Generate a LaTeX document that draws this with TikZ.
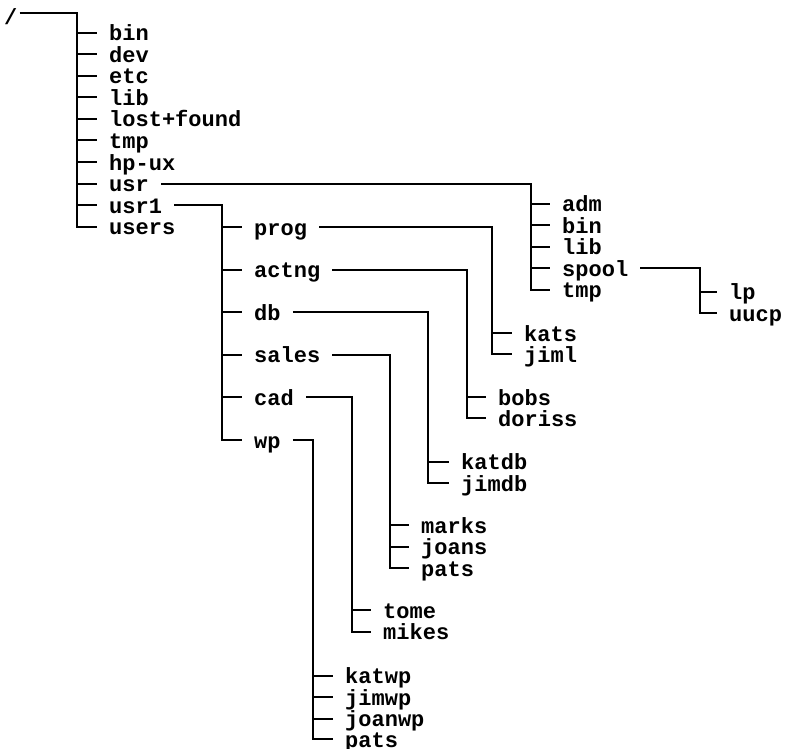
\documentclass[tikz,border=0pt]{standalone}
\usepackage{fontspec}
\setmainfont{Liberation Mono}
\begin{document}
\begin{tikzpicture}[x=1pt,y=-1pt,
  lblfont/.style={font=\fontsize{22pt}{26pt}\selectfont\bfseries},
  lbl/.style={lblfont, anchor=west, inner xsep=12pt, inner ysep=0pt, text height=16pt, text depth=0pt},
  tree/.style={line width=2pt, line join=miter, black}]
\useasboundingbox (0,0) rectangle (787,749);

% root
\node[lblfont, anchor=base west, inner xsep=2pt, inner ysep=0pt] (root) at (2,25) {/};
\coordinate (r0) at (77,13);
\node[lbl] (rbin)   at (97,33)    {bin};
\node[lbl] (rdev)   at (97,54.5)  {dev};
\node[lbl] (retc)   at (97,76)    {etc};
\node[lbl] (rlib)   at (97,97.5)  {lib};
\node[lbl] (rlost)  at (97,119)   {lost+found};
\node[lbl] (rtmp)   at (97,140.5) {tmp};
\node[lbl] (rhpux)  at (97,162)   {hp-ux};
\node[lbl] (rusr)   at (97,183.5) {usr};
\node[lbl] (rusr1)  at (97,205)   {usr1};
\node[lbl] (rusers) at (97,226.5) {users};

% usr
\coordinate (cusr) at (531,183.5);
\node[lbl] (uadm)   at (550,203.5) {adm};
\node[lbl] (ubin)   at (550,225)   {bin};
\node[lbl] (ulib)   at (550,246.5) {lib};
\node[lbl] (uspool) at (550,268)   {spool};
\node[lbl] (utmp)   at (550,289.5) {tmp};

% spool
\coordinate (cspool) at (700,268);
\node[lbl] (slp)   at (717,291.5) {lp};
\node[lbl] (suucp) at (717,313)   {uucp};

% usr1
\coordinate (cusr1) at (222,205);
\node[lbl] (vprog)  at (242,227)   {prog};
\node[lbl] (vactng) at (242,269.6) {actng};
\node[lbl] (vdb)    at (242,312.2) {db};
\node[lbl] (vsales) at (242,354.8) {sales};
\node[lbl] (vcad)   at (242,397.4) {cad};
\node[lbl] (vwp)    at (242,440)   {wp};

% prog
\coordinate (cprog) at (492,227);
\node[lbl] (pkats) at (512,333) {kats};
\node[lbl] (pjiml) at (512,354) {jiml};

% actng
\coordinate (cactng) at (467,269.6);
\node[lbl] (abobs)   at (486,397) {bobs};
\node[lbl] (adoriss) at (486,418) {doriss};

% db
\coordinate (cdb) at (428,312.2);
\node[lbl] (dkatdb) at (449,461.5) {katdb};
\node[lbl] (djimdb) at (449,483)   {jimdb};

% sales
\coordinate (csales) at (390,354.8);
\node[lbl] (smarks) at (409,525)   {marks};
\node[lbl] (sjoans) at (409,546.5) {joans};
\node[lbl] (spats)  at (409,568)   {pats};

% cad
\coordinate (ccad) at (352,397.4);
\node[lbl] (ctome)  at (371,610)   {tome};
\node[lbl] (cmikes) at (371,631.5) {mikes};

% wp
\coordinate (cwp) at (313,440);
\node[lbl] (wkatwp)  at (333,675.5) {katwp};
\node[lbl] (wjimwp)  at (333,697)   {jimwp};
\node[lbl] (wjoanwp) at (333,718.5) {joanwp};
\node[lbl] (wpats)   at (333,739)   {pats};

% connectors
\draw[tree] (root.east |- r0) -- (r0) |- (rusers.west);
\foreach \n in {rbin,rdev,retc,rlib,rlost,rtmp,rhpux,rusr,rusr1}
  \draw[tree] (r0 |- \n.west) -- (\n.west);

\draw[tree] (rusr.east) -| (cusr |- utmp.west) -- (utmp.west);
\foreach \n in {uadm,ubin,ulib,uspool}
  \draw[tree] (cusr |- \n.west) -- (\n.west);

\draw[tree] (uspool.east) -| (cspool |- suucp.west) -- (suucp.west);
\draw[tree] (cspool |- slp.west) -- (slp.west);

\draw[tree] (rusr1.east) -| (cusr1 |- vwp.west) -- (vwp.west);
\foreach \n in {vprog,vactng,vdb,vsales,vcad}
  \draw[tree] (cusr1 |- \n.west) -- (\n.west);

\draw[tree] (vprog.east) -| (cprog |- pjiml.west) -- (pjiml.west);
\draw[tree] (cprog |- pkats.west) -- (pkats.west);

\draw[tree] (vactng.east) -| (cactng |- adoriss.west) -- (adoriss.west);
\draw[tree] (cactng |- abobs.west) -- (abobs.west);

\draw[tree] (vdb.east) -| (cdb |- djimdb.west) -- (djimdb.west);
\draw[tree] (cdb |- dkatdb.west) -- (dkatdb.west);

\draw[tree] (vsales.east) -| (csales |- spats.west) -- (spats.west);
\foreach \n in {smarks,sjoans}
  \draw[tree] (csales |- \n.west) -- (\n.west);

\draw[tree] (vcad.east) -| (ccad |- cmikes.west) -- (cmikes.west);
\draw[tree] (ccad |- ctome.west) -- (ctome.west);

\draw[tree] (vwp.east) -| (cwp |- wpats.west) -- (wpats.west);
\foreach \n in {wkatwp,wjimwp,wjoanwp}
  \draw[tree] (cwp |- \n.west) -- (\n.west);
\end{tikzpicture}
\end{document}
